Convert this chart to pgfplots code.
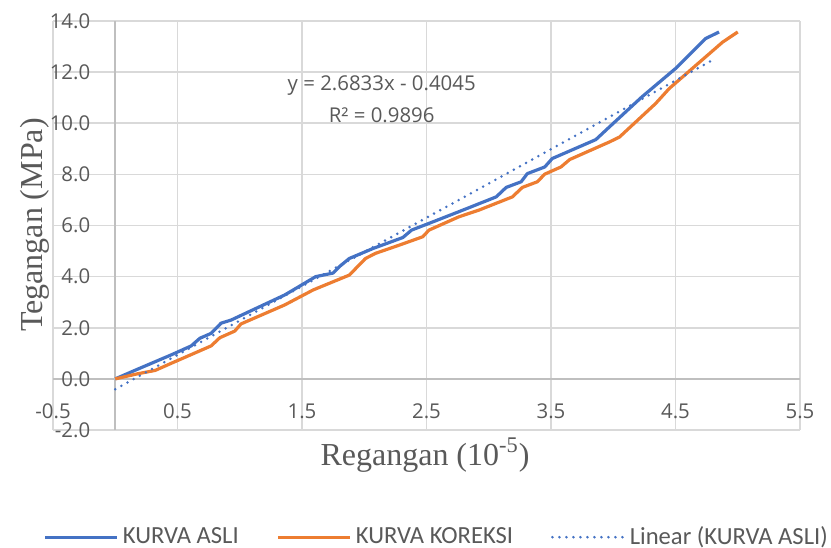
\documentclass[border=0pt]{standalone}
\usepackage{fontspec}
\setmainfont{Liberation Serif}
\newfontfamily\tickfont{Open Sans}
\newfontfamily\legfont{Carlito}
\usepackage{pgfplots}
\pgfplotsset{compat=1.18}
\definecolor{xlblue}{HTML}{4472C4}
\definecolor{xlorange}{HTML}{ED7D31}
\definecolor{gridgray}{HTML}{D9D9D9}
\definecolor{axisgray}{HTML}{BFBFBF}
\definecolor{textgray}{HTML}{595959}

\begin{document}
\begin{tikzpicture}
\begin{axis}[
    width=373.5bp, height=204.5bp, scale only axis,
    xmin=-0.5, xmax=5.5, ymin=-2, ymax=14,
    axis lines=middle,
    axis line style={-, draw=axisgray, line width=0.8bp},
    xtick={-0.5,0.5,1.5,2.5,3.5,4.5,5.5},
    ytick={-2,0,2,4,6,8,10,12,14},
    hide obscured x ticks=false, hide obscured y ticks=false,
    major tick length=0pt,
    grid=major,
    grid style={draw=gridgray, line width=0.8bp},
    /pgf/number format/assume math mode=true,
    /pgf/number format/fixed,
    /pgf/number format/fixed zerofill,
    /pgf/number format/precision=1,
    xticklabel style={font=\tickfont\fontsize{10.2bp}{12bp}\selectfont, text=textgray, yshift=-9bp},
    yticklabel style={font=\tickfont\fontsize{10.2bp}{12bp}\selectfont, text=textgray, xshift=-9bp},
    xlabel={Regangan (10\textsuperscript{-5})},
    ylabel={Tegangan (MPa)},
    xlabel style={at={(axis description cs:0.498,-0.061)}, anchor=center, font=\fontsize{16bp}{18bp}\selectfont, text=textgray},
    ylabel style={at={(axis description cs:-0.024,0.501)}, anchor=center, rotate=90, font=\fontsize{16bp}{18bp}\selectfont, text=textgray},
    legend columns=3,
    legend style={draw=none, at={(axis description cs:0.515,-0.262)}, anchor=center,
        font=\legfont\fontsize{12.3bp}{14bp}\selectfont, text=textgray,
        /tikz/every even column/.append style={column sep=17bp}},
    legend image code/.code={\draw[#1] (0bp,0bp) -- (36bp,0bp);},
    clip=false,
]

% KURVA ASLI
\addplot[xlblue, line width=1.6bp, line join=round] coordinates {
    (0,0) (0.18,0.38) (0.45,0.94) (0.61,1.29) (0.68,1.59) (0.77,1.78)
    (0.85,2.18) (0.93,2.30) (1.36,3.28) (1.43,3.48) (1.61,4.0) (1.75,4.14)
    (1.80,4.39) (1.88,4.71) (2.07,5.10) (2.31,5.53) (2.38,5.82) (2.55,6.14)
    (2.76,6.54) (3.06,7.12) (3.14,7.49) (3.26,7.71) (3.31,8.03) (3.45,8.29)
    (3.51,8.62) (3.86,9.36) (3.97,9.86) (4.23,11.03) (4.50,12.14)
    (4.74,13.31) (4.85,13.57)
};
\addlegendentry{KURVA ASLI}

% KURVA KOREKSI
\addplot[xlorange, line width=1.6bp, line join=round] coordinates {
    (0,0) (0.18,0.20) (0.32,0.33) (0.45,0.61) (0.77,1.29) (0.84,1.61)
    (0.96,1.87) (1.01,2.15) (1.36,2.89) (1.59,3.48) (1.88,4.06) (2.01,4.71)
    (2.09,4.91) (2.28,5.23) (2.47,5.56) (2.52,5.82) (2.76,6.34) (2.92,6.60)
    (3.19,7.12) (3.27,7.49) (3.39,7.71) (3.45,8.01) (3.58,8.29) (3.65,8.58)
    (3.97,9.27) (4.05,9.46) (4.34,10.77) (4.45,11.36) (4.88,13.18) (5.0,13.57)
};
\addlegendentry{KURVA KOREKSI}

% Linear (KURVA ASLI): y = 2.6833x - 0.4045
\addplot[xlblue, line width=1.4bp, line cap=round, dash pattern=on 0bp off 3.5bp] coordinates {
    (0,-0.4045) (4.81,12.502)
};
\addlegendentry{Linear (KURVA ASLI)}

\node[font=\tickfont\fontsize{10.2bp}{12bp}\selectfont, text=textgray] at (axis cs:2.14,11.48) {y = 2.6833x - 0.4045};
\node[font=\tickfont\fontsize{10.2bp}{12bp}\selectfont, text=textgray] at (axis cs:2.14,10.31) {R² = 0.9896};

\coordinate (bbBL) at (axis description cs:-0.07095,-0.2885);
\coordinate (bbTR) at (axis description cs:1.0415,1.05134);
\end{axis}
\pgfresetboundingbox
\path (bbBL) rectangle (bbTR);
\end{tikzpicture}
\end{document}
